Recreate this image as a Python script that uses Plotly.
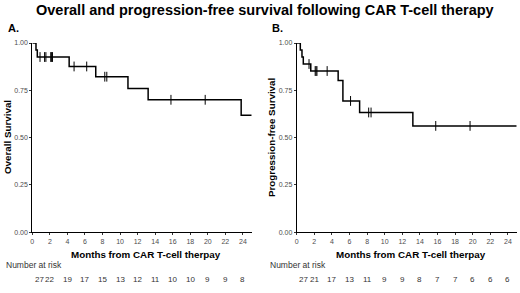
import plotly.graph_objects as go

W, H = 520, 293

# ---- data ----
months_ticks = [0, 2, 4, 6, 8, 10, 12, 14, 16, 18, 20, 22, 24]
y_ticks = [0.0, 0.25, 0.5, 0.75, 1.0]
y_tick_labels = ["0.00", "0.25", "0.50", "0.75", "1.00"]

os_time = [0, 0.42, 0.57, 4.2, 7.23, 10.9, 13.2, 23.8, 25.0]
os_surv = [1.0, 0.963, 0.926, 0.876, 0.822, 0.760, 0.700, 0.618, 0.618]
os_censor = [0.88, 1.4, 1.55, 2.1, 2.2, 2.3, 4.76, 6.2, 8.26, 8.49, 15.8, 19.7]
os_risk = [27, 22, 19, 17, 15, 13, 12, 11, 10, 10, 9, 9, 8]

pfs_time = [0, 0.41, 0.6, 0.75, 1.6, 4.71, 5.25, 7.15, 13.2, 25.0]
pfs_surv = [1.0, 0.963, 0.926, 0.889, 0.852, 0.802, 0.694, 0.633, 0.562, 0.562]
pfs_censor = [1.4, 2.1, 2.2, 2.3, 3.46, 6.12, 8.18, 8.45, 15.8, 19.7]
pfs_risk = [27, 21, 17, 13, 11, 9, 9, 8, 7, 7, 6, 6, 6]

title = "Overall and progression-free survival following CAR T-cell therapy"
xtitle = "Months from CAR T-cell therpay"


def step_at(times, surv, t):
    val = surv[0]
    for ti, si in zip(times, surv):
        if ti <= t:
            val = si
    return val


FONT = "Liberation Sans"
fig = go.Figure()

panels = [
    ("x", "y", os_time, os_surv, os_censor, os_risk, "Overall Survival", "A."),
    ("x2", "y2", pfs_time, pfs_surv, pfs_censor, pfs_risk, "Progression-free Survival", "B."),
]
xdoms = [[32.3 / W, 251.7 / W], [296.7 / W, 516.7 / W]]
ydom = [1 - 232.3 / H, 1 - 43 / H]


def ann(**kw):
    kw.setdefault("showarrow", False)
    kw.setdefault("xanchor", "center")
    kw.setdefault("yanchor", "middle")
    fig.add_annotation(**kw)


for i, (xr, yr, t, s, c, risk, ylab, letter) in enumerate(panels):
    fig.add_trace(go.Scatter(x=t, y=s, xaxis=xr, yaxis=yr, mode="lines",
                             line=dict(shape="hv", color="black", width=1.5),
                             showlegend=False, hoverinfo="skip"))
    fig.add_trace(go.Scatter(x=c, y=[step_at(t, s, ci) for ci in c], xaxis=xr, yaxis=yr,
                             mode="markers",
                             marker=dict(symbol="line-ns", size=7,
                                         line=dict(color="black", width=1)),
                             showlegend=False, hoverinfo="skip"))
    ax = dict(domain=xdoms[i], range=[0, 25], tickmode="array", tickvals=months_ticks,
              showgrid=False, zeroline=False, showline=True, linecolor="black",
              linewidth=1, ticks="outside", ticklen=2, tickcolor="#333",
              automargin=False,
              tickfont=dict(family=FONT, size=7, color="#4d4d4d"), anchor=yr)
    ay = dict(domain=ydom, range=[0, 1], tickmode="array", tickvals=y_ticks,
              ticktext=y_tick_labels, showgrid=False, zeroline=False, showline=True,
              linecolor="black", linewidth=1, ticks="outside", ticklen=2, tickcolor="#333",
              automargin=False,
              tickfont=dict(family=FONT, size=7, color="#4d4d4d"), anchor=xr)
    fig.layout["xaxis" if i == 0 else "xaxis2"] = ax
    fig.layout["yaxis" if i == 0 else "yaxis2"] = ay

    xc = (xdoms[i][0] + xdoms[i][1]) / 2
    ann(text="<b>" + xtitle + "</b>", xref="paper", yref="paper",
        x=xc + 4 / W, y=1 - 254 / H,
        font=dict(family=FONT, size=9.8, color="black"))
    ann(text="<b>" + ylab + "</b>", xref="paper", yref="paper",
        x=(7 if i == 0 else 271) / W, y=1 - 137 / H, textangle=-90,
        font=dict(family=FONT, size=9.8, color="black"))
    ann(text="<b>" + letter + "</b>", xref="paper", yref="paper",
        x=(13 if i == 0 else 277) / W, y=1 - 28 / H,
        font=dict(family=FONT, size=11, color="black"))
    ann(text="Number at risk", xref="paper", yref="paper",
        x=(4 if i == 0 else 268) / W, y=1 - 265 / H, xanchor="left",
        font=dict(family=FONT, size=8.5, color="#333"))
    for m, r in zip(months_ticks, risk):
        ann(text=str(r), xref=xr, yref="paper", x=m, y=1 - 279 / H,
            xshift=(7 if m == 0 else 0),
            font=dict(family=FONT, size=8, color="#333"))

ann(text="<b>" + title + "</b>", xref="paper", yref="paper",
    x=265 / W, y=1 - 10 / H,
    font=dict(family=FONT, size=14.5, color="black"))

fig.update_layout(width=W, height=H, margin=dict(l=0, r=0, t=0, b=0, autoexpand=False),
                  plot_bgcolor="white", paper_bgcolor="white")
fig.write_html("out.html", config={"displayModeBar": False},
               post_script="document.body.style.margin='0';document.body.style.overflow='hidden';")
